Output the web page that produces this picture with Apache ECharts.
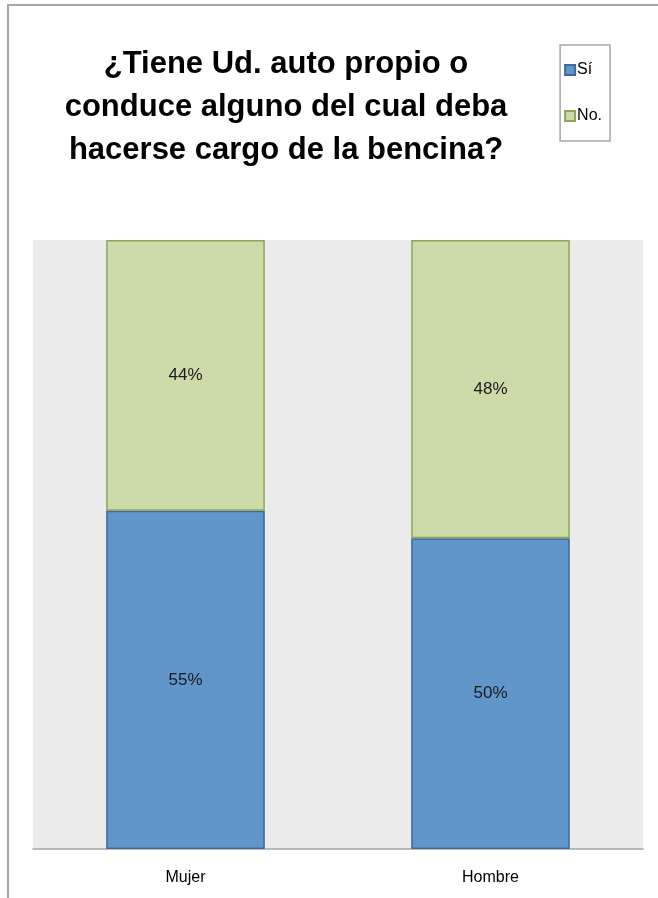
<!DOCTYPE html>
<html>
<head>
<meta charset="utf-8">
<script src="https://cdn.jsdelivr.net/npm/echarts@6/dist/echarts.min.js"></script>
<style>
  html, body { margin: 0; padding: 0; background: #fff; }
  #chart { width: 658px; height: 898px; }
</style>
</head>
<body>
<div id="chart"></div>
<script>
// categorias y valores (porcentaje)
var categorias = ['Mujer', 'Hombre'];
var valoresSi = [55, 50];
var valoresNo = [44, 48];
var titulo = '¿Tiene Ud. auto propio o\nconduce alguno del cual deba\nhacerse cargo de la bencina?';

// barras apiladas al 100%
var shareSi = [], shareNo = [];
for (var i = 0; i < categorias.length; i++) {
  var total = valoresSi[i] + valoresNo[i];
  shareSi.push(valoresSi[i] / total * 100);
  shareNo.push(valoresNo[i] / total * 100);
}

var chart = echarts.init(document.getElementById('chart'));
var fuente = '"Liberation Sans", Arial, sans-serif';

chart.setOption({
  backgroundColor: '#fff',
  animation: false,
  graphic: [{
    type: 'rect',
    shape: { x: 8, y: 5, width: 700, height: 950 },
    style: { fill: 'none', stroke: '#a6a6a6', lineWidth: 2 },
    z: -10
  }],
  title: {
    text: titulo,
    left: 281,
    top: 38,
    textAlign: 'center',
    textStyle: {
      fontFamily: fuente,
      fontWeight: 'bold',
      fontSize: 31,
      lineHeight: 43,
      color: '#000'
    }
  },
  legend: {
    orient: 'vertical',
    right: 48,
    top: 45,
    icon: 'rect',
    itemWidth: 10,
    itemHeight: 10,
    itemGap: 30,
    padding: [17, 8, 17, 4],
    borderColor: '#a6a6a6',
    borderWidth: 1.5,
    data: ['Sí', 'No.'],
    textStyle: { fontFamily: fuente, fontSize: 16, color: '#000', padding: [0, 0, 0, -3] }
  },
  grid: {
    left: 33,
    right: 15,
    top: 240,
    bottom: 49,
    show: true,
    backgroundColor: '#ebebeb',
    borderWidth: 0
  },
  xAxis: {
    type: 'category',
    data: categorias,
    axisLine: { lineStyle: { color: '#a6a6a6', width: 1.5 } },
    axisTick: { show: false },
    axisLabel: { fontFamily: fuente, fontSize: 16, color: '#000', margin: 21 }
  },
  yAxis: {
    type: 'value',
    min: 0,
    max: 100,
    show: false,
    splitLine: { show: false }
  },
  series: [{
    name: 'Sí',
    type: 'bar',
    stack: 'total',
    data: shareSi,
    barWidth: '52%',
    itemStyle: { color: '#6096c9', borderColor: '#3c6a9c', borderWidth: 1.5 },
    label: {
      show: true,
      position: 'inside',
      fontFamily: fuente,
      fontSize: 17,
      color: '#1a1a1a',
      formatter: function (p) { return valoresSi[p.dataIndex] + '%'; }
    }
  }, {
    name: 'No.',
    type: 'bar',
    stack: 'total',
    data: shareNo,
    barWidth: '52%',
    itemStyle: { color: '#cddbab', borderColor: '#8ca65a', borderWidth: 1.5 },
    label: {
      show: true,
      position: 'inside',
      fontFamily: fuente,
      fontSize: 17,
      color: '#1a1a1a',
      formatter: function (p) { return valoresNo[p.dataIndex] + '%'; }
    }
  }]
});
</script>
</body>
</html>
